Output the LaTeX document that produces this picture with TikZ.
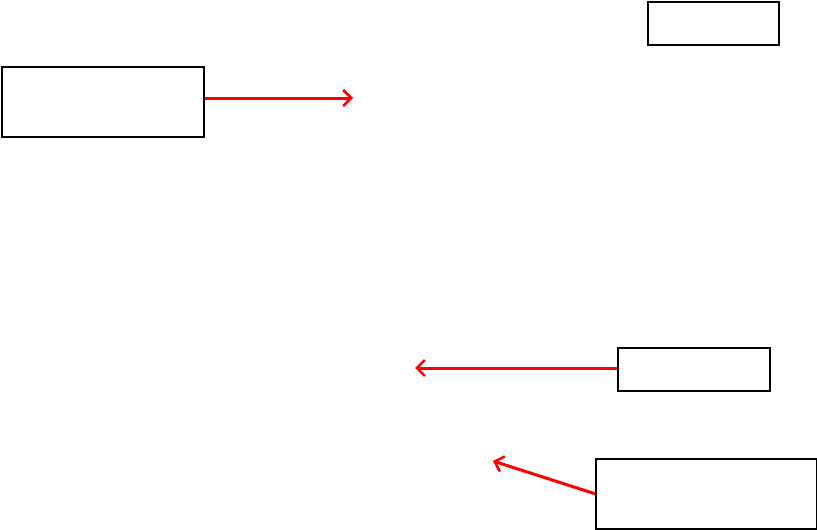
\documentclass[tikz,border=0pt]{standalone}
\usepackage{tikz}
\usetikzlibrary{arrows.meta}

\begin{document}
\begin{tikzpicture}[x=1pt,y=-1pt,
        box/.style={draw,line width=1.5pt,inner sep=0pt,anchor=north west},
        pointer/.style={red,line width=3pt,-{Straight Barb[length=8pt,width=16pt,line width=2.6pt]}}]
        \useasboundingbox (0,0) rectangle (817,530);

        % Рамки
        \node[box,minimum width=131pt,minimum height=43pt] (topbox) at (647,1) {};
        \node[box,minimum width=202pt,minimum height=70pt] (leftbox) at (1,66) {};
        \node[box,minimum width=152pt,minimum height=43pt] (midbox) at (617,347) {};
        \node[box,minimum width=221pt,minimum height=70pt] (lowbox) at (595,458) {};

        \coordinate (P1) at (353,98);
        \coordinate (P2) at (415,368);
        \coordinate (P3) at (493,461);

        % Стрілки
        \draw[pointer] (leftbox.east |- P1) -- (P1);
        \draw[pointer] (midbox.west |- P2) -- (P2);
        \draw[pointer] (lowbox.west) -- (P3);
    \end{tikzpicture}
\end{document}
